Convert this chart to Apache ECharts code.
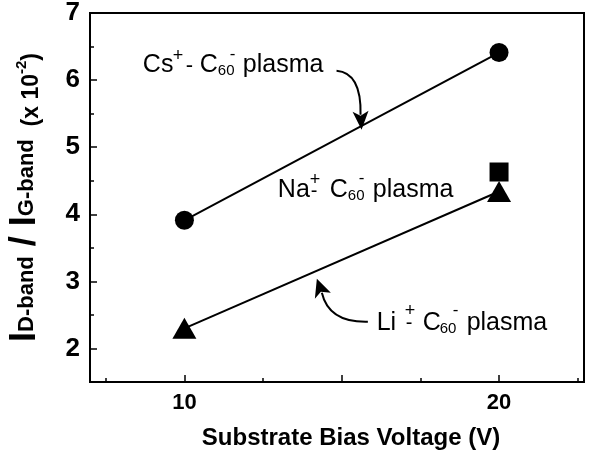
<!DOCTYPE html>
<html>
<head>
<meta charset="utf-8">
<script src="https://cdn.jsdelivr.net/npm/echarts@6/dist/echarts.min.js"></script>
<style>
  html, body { margin: 0; padding: 0; background: #fff; }
  #chart { width: 596px; height: 454px; }
</style>
</head>
<body>
<div id="chart"></div>
<script>
// tick positions
const xTicksMajor = [10, 15, 20];
const xTickLabels = [10, 20];
const xTicksMinor = [7.5, 12.5, 17.5, 22.5];
const yTicksMajor = [2, 3, 4, 5, 6, 7];
const yTicksMinor = [2.5, 3.5, 4.5, 5.5, 6.5];

// measured values (x 10^-2)
const biasVoltage = [10, 20];
const csRatio = [3.91, 6.41];
const liRatio = [2.30, 4.34];
const naVoltage = [20];
const naRatio = [4.63];

const FONT = '"Liberation Sans", Arial, sans-serif';
const zip = (a, b) => a.map((v, i) => [v, b[i]]);

const chart = echarts.init(document.getElementById('chart'));

const axisBase = {
    type: 'value',
    splitLine: { show: false },
    axisLine: { show: false },
    axisLabel: { show: false },
    axisTick: { show: false }
};

const option = {
    animation: false,
    backgroundColor: '#fff',
    grid: {
        left: 90, right: 12, top: 13, bottom: 72,
        show: true, borderColor: '#000', borderWidth: 2,
        outerBoundsMode: 'none'
    },
    xAxis: [
        {
            type: 'value', min: 7, max: 22.7, position: 'bottom',
            splitLine: { show: false },
            axisLine: { lineStyle: { color: '#000', width: 2 } },
            axisTick: { inside: true, length: 7, customValues: xTicksMajor, lineStyle: { color: '#000', width: 1.5 } },
            axisLabel: { customValues: xTickLabels, color: '#000', fontSize: 22, fontWeight: 700, fontFamily: FONT, margin: 10 },
            name: 'Substrate Bias Voltage (V)',
            nameLocation: 'middle',
            nameGap: 44,
            nameTextStyle: { color: '#000', fontSize: 24, fontWeight: 700, fontFamily: FONT, padding: [0, 0, 0, 28] }
        },
        Object.assign({}, axisBase, {
            min: 7, max: 22.7, position: 'bottom',
            axisTick: { show: true, inside: true, length: 4, customValues: xTicksMinor, lineStyle: { color: '#000', width: 1.5 } }
        })
    ],
    yAxis: [
        {
            type: 'value', min: 1.5, max: 7, position: 'left',
            splitLine: { show: false },
            axisLine: { lineStyle: { color: '#000', width: 2 } },
            axisTick: { inside: true, length: 7, customValues: yTicksMajor, lineStyle: { color: '#000', width: 1.5 } },
            axisLabel: { customValues: yTicksMajor, color: '#000', fontSize: 26, fontWeight: 700, fontFamily: FONT, margin: 10 },
            name: '{i|I}{s|D-band}{i| / I}{s|G-band}{n|  (x 10}{p|-2}{n|)}',
            nameLocation: 'middle',
            nameGap: 47,
            nameRotate: 90,
            nameTextStyle: {
                color: '#000', fontWeight: 700, fontFamily: FONT,
                rich: {
                    i: { fontSize: 36, fontWeight: 700, fontFamily: FONT, color: '#000', verticalAlign: 'bottom' },
                    s: { fontSize: 22, fontWeight: 700, fontFamily: FONT, color: '#000', verticalAlign: 'bottom', padding: [0, 0, 5, 0] },
                    n: { fontSize: 23, fontWeight: 700, fontFamily: FONT, color: '#000', verticalAlign: 'bottom' },
                    p: { fontSize: 15, fontWeight: 700, fontFamily: FONT, color: '#000', verticalAlign: 'bottom', padding: [0, 0, 14, 0] }
                }
            }
        },
        Object.assign({}, axisBase, {
            min: 1.5, max: 7, position: 'left',
            axisTick: { show: true, inside: true, length: 4, customValues: yTicksMinor, lineStyle: { color: '#000', width: 1.5 } }
        })
    ],
    series: [
        {
            name: 'Cs', type: 'line', data: zip(biasVoltage, csRatio),
            symbol: 'circle', symbolSize: 19,
            itemStyle: { color: '#000' }, lineStyle: { color: '#000', width: 2 }
        },
        {
            name: 'Li', type: 'line', data: zip(biasVoltage, liRatio),
            symbol: 'triangle', symbolSize: [24, 21],
            itemStyle: { color: '#000' }, lineStyle: { color: '#000', width: 2 }
        },
        {
            name: 'Na', type: 'scatter', data: zip(naVoltage, naRatio),
            symbol: 'rect', symbolSize: 19,
            itemStyle: { color: '#000', opacity: 1 }
        }
    ]
};

chart.setOption(option);

// annotation text: pieces [text, dx, baseline dy, size]
function label(at, pieces) {
    const p = chart.convertToPixel({ gridIndex: 0 }, at);
    return {
        type: 'group', x: p[0], y: p[1],
        children: pieces.map(([t, dx, dy, size]) => ({
            type: 'text',
            style: {
                text: t, x: dx, y: dy - 0.36 * size,
                fontSize: size, fontFamily: FONT, fill: '#000',
                verticalAlign: 'middle', align: 'left'
            }
        }))
    };
}

// curved arrow ending at tip (data coords)
function arrow(at, start, cp, end, head) {
    const p = chart.convertToPixel({ gridIndex: 0 }, at);
    return {
        type: 'group', x: p[0], y: p[1],
        children: [
            {
                type: 'bezierCurve',
                shape: { x1: start[0], y1: start[1], cpx1: cp[0], cpy1: cp[1], x2: end[0], y2: end[1] },
                style: { stroke: '#000', lineWidth: 2, fill: null }
            },
            { type: 'polygon', shape: { points: head }, style: { fill: '#000' } }
        ]
    };
}

chart.setOption({
    graphic: [
        label([8.68, 6.09], [['Cs', 0, 0, 25], ['+', 30, -12, 18], ['-', 43, 0, 22], ['C', 57, 0, 25], ['60', 75, 2, 15], ['-', 87, -14, 17], ['plasma', 100, 0, 25]]),
        label([12.97, 4.22], [['Na', 0, 0, 25], ['+', 32, -13, 18], ['-', 33, -1, 20], ['C', 52, 0, 25], ['60', 70, 2, 15], ['-', 81, -15, 17], ['plasma', 95, 0, 25]]),
        label([16.11, 2.24], [['Li', 0, 0, 25], ['+', 28, -15, 18], ['-', 29, -2, 20], ['C', 46, 0, 25], ['60', 63, 2, 15], ['-', 76, -16, 17], ['plasma', 90, 0, 25]]),
        arrow([15.63, 5.26], [-25, -59], [0, -57], [-1, -15], [[0, 0], [7, -19], [-1, -14], [-9, -18]]),
        arrow([14.21, 3.04], [51, 43], [12, 44], [5, 14], [[0, 0], [14, 14], [4, 13], [-2, 20]])
    ]
});
</script>
</body>
</html>
